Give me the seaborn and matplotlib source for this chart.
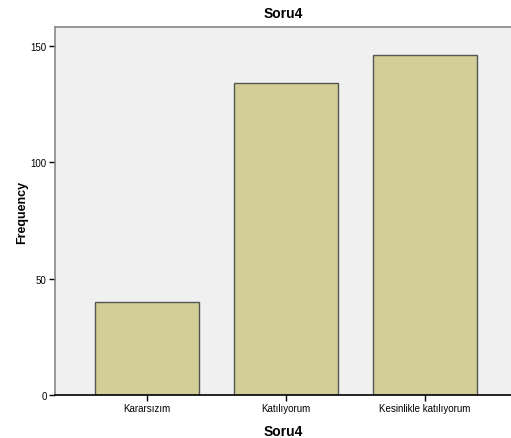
import matplotlib
matplotlib.use('Agg')
import matplotlib.pyplot as plt
import seaborn as sns
import pandas as pd

# values
categories = ['Kararsızım', 'Katılıyorum', 'Kesinlikle katılıyorum']
counts = [40, 134, 146]

df = pd.DataFrame({'Soru4': categories, 'Frequency': counts})

sns.set_style('white', {'text.color': 'black', 'axes.labelcolor': 'black',
                        'xtick.color': 'black', 'ytick.color': 'black'})
plt.rcParams['font.family'] = ['Liberation Sans', 'DejaVu Sans']

fig = plt.figure(figsize=(5.11, 4.39), dpi=100)
ax = fig.add_axes([55 / 511, 43 / 439, 456 / 511, 368 / 439])
ax.set_facecolor('#f0f0f0')

sns.barplot(data=df, x='Soru4', y='Frequency', color='#d3ce97', saturation=1,
            width=0.75, edgecolor='#555555', linewidth=1, ax=ax)

ax.set_xlim(-0.662, 2.62)
ax.set_ylim(0, 158)
ax.set_yticks([0, 50, 100, 150])
ax.tick_params(axis='both', labelsize=7, length=4, width=1, color='black',
               labelcolor='black', direction='out', pad=2)
ax.tick_params(axis='x', bottom=True)
ax.tick_params(axis='y', left=True)

for side in ['top', 'left']:
    ax.spines[side].set_color('#888888')
    ax.spines[side].set_linewidth(1.2)
ax.spines['right'].set_visible(False)
ax.spines['bottom'].set_color('black')
ax.spines['bottom'].set_linewidth(1.2)

ax.set_title('Soru4', fontsize=10, fontweight='bold', pad=7, color='black')
ax.set_xlabel('Soru4', fontsize=10, fontweight='bold', labelpad=8, color='black')
ax.set_ylabel('Frequency', fontsize=9, fontweight='bold', labelpad=2, color='black')

fig.savefig('out.png', dpi=100)
